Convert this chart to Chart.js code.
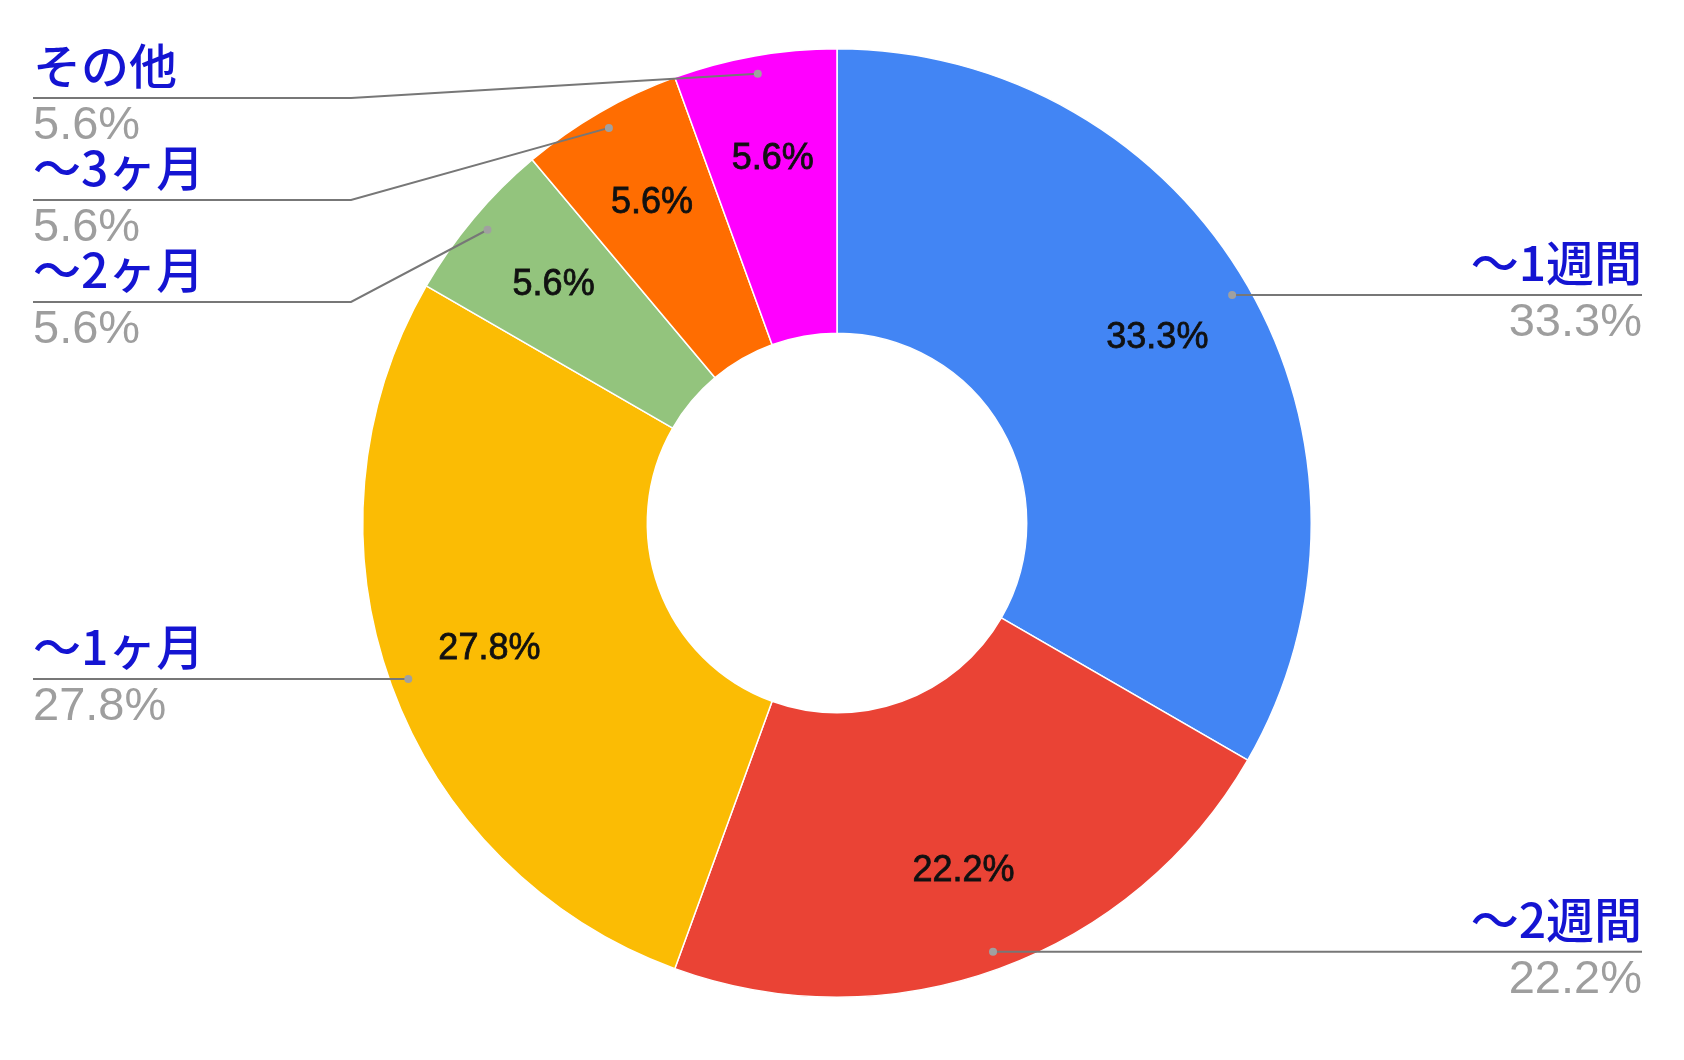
<!DOCTYPE html>
<html>
<head>
<meta charset="utf-8">
<script src="https://cdn.jsdelivr.net/npm/chart.js@4/dist/chart.umd.min.js"></script>
<style>
  html, body { margin: 0; padding: 0; background: #fff; }
  #wrap { width: 1684px; height: 1060px; }
</style>
</head>
<body>
<div id="wrap"><canvas id="pie" width="1684" height="1060"></canvas></div>
<script>
// answers to "how long" question
const categories = ['～1週間', '～2週間', '～1ヶ月', '～2ヶ月', '～3ヶ月', 'その他'];
const counts = [6, 4, 5, 1, 1, 1];
const sliceColors = ['#4285f4', '#ea4335', '#fbbc04', '#93c47d', '#ff6d01', '#ff00ff'];

const total = counts.reduce((a, b) => a + b, 0);
const pctText = counts.map(v => (v / total * 100).toFixed(1) + '%');

const nameFont = '500 48px "Noto Sans CJK JP", sans-serif';
const pctFont = '47px "Liberation Sans", Arial, sans-serif';
const innerFont = '36px "Liberation Sans", Arial, sans-serif';

// draws the % inside slices and the leader-line labels outside
const labelPlugin = {
    id: 'labelPlugin',
    afterDatasetsDraw(chart) {
        const ctx = chart.ctx;
        const meta = chart.getDatasetMeta(0);
        const W = chart.width;
        let left = [], right = [];

        meta.data.forEach((arc, i) => {
            const p = arc.getProps(['x', 'y', 'startAngle', 'endAngle', 'innerRadius', 'outerRadius'], true);
            const mid = (p.startAngle + p.endAngle) / 2;
            const c = Math.cos(mid), s = Math.sin(mid);

            // value in slice (a little heavier, like the original)
            const rl = p.outerRadius * 0.78;
            ctx.save();
            ctx.font = innerFont;
            ctx.fillStyle = '#111';
            ctx.strokeStyle = '#111';
            ctx.lineWidth = 0.8;
            ctx.textAlign = 'center';
            ctx.textBaseline = 'middle';
            ctx.fillText(pctText[i], p.x + c * rl, p.y + s * rl);
            ctx.strokeText(pctText[i], p.x + c * rl, p.y + s * rl);
            ctx.restore();

            const rd = p.outerRadius * 0.962;
            const item = { i: i, dx: p.x + c * rd, dy: p.y + s * rd };
            if (c >= 0) right.push(item); else left.push(item);
        });

        function stack(list) {
            list.sort((a, b) => a.dy - b.dy);
            let prev = -1e9;
            list.forEach(it => {
                it.ly = Math.max(it.dy, prev + 102, 98);
                prev = it.ly;
            });
        }
        stack(left);
        stack(right);

        function draw(it, isLeft) {
            const edgeX = isLeft ? 33 : W - 42;
            const elbowX = isLeft ? 351 : W - 351;
            ctx.save();
            ctx.strokeStyle = '#777';
            ctx.lineWidth = 2;
            ctx.beginPath();
            ctx.moveTo(it.dx, it.dy);
            if (Math.abs(it.ly - it.dy) > 1) ctx.lineTo(elbowX, it.ly);
            ctx.lineTo(edgeX, it.ly);
            ctx.stroke();

            ctx.fillStyle = '#a0a0a0';
            ctx.beginPath();
            ctx.arc(it.dx, it.dy, 4, 0, Math.PI * 2);
            ctx.fill();

            ctx.textAlign = isLeft ? 'left' : 'right';
            ctx.textBaseline = 'alphabetic';
            ctx.font = nameFont;
            ctx.fillStyle = '#1414d2';
            ctx.fillText(categories[it.i], edgeX, it.ly - 14);
            ctx.font = pctFont;
            ctx.fillStyle = '#9e9e9e';
            ctx.fillText(pctText[it.i], edgeX, it.ly + 41);
            ctx.restore();
        }
        left.forEach(it => draw(it, true));
        right.forEach(it => draw(it, false));
    }
};

const ctx = document.getElementById('pie').getContext('2d');
const myChart = new Chart(ctx, {
    type: 'doughnut',
    data: {
        labels: categories,
        datasets: [{
            data: counts,
            backgroundColor: sliceColors,
            borderColor: '#ffffff',
            borderWidth: 1.5
        }]
    },
    options: {
        responsive: false,
        animation: false,
        devicePixelRatio: 1,
        cutout: '40%',
        layout: { padding: { top: 48, bottom: 62, left: 0, right: 10 } },
        plugins: {
            legend: { display: false },
            tooltip: { enabled: false }
        }
    },
    plugins: [labelPlugin]
});
</script>
</body>
</html>
